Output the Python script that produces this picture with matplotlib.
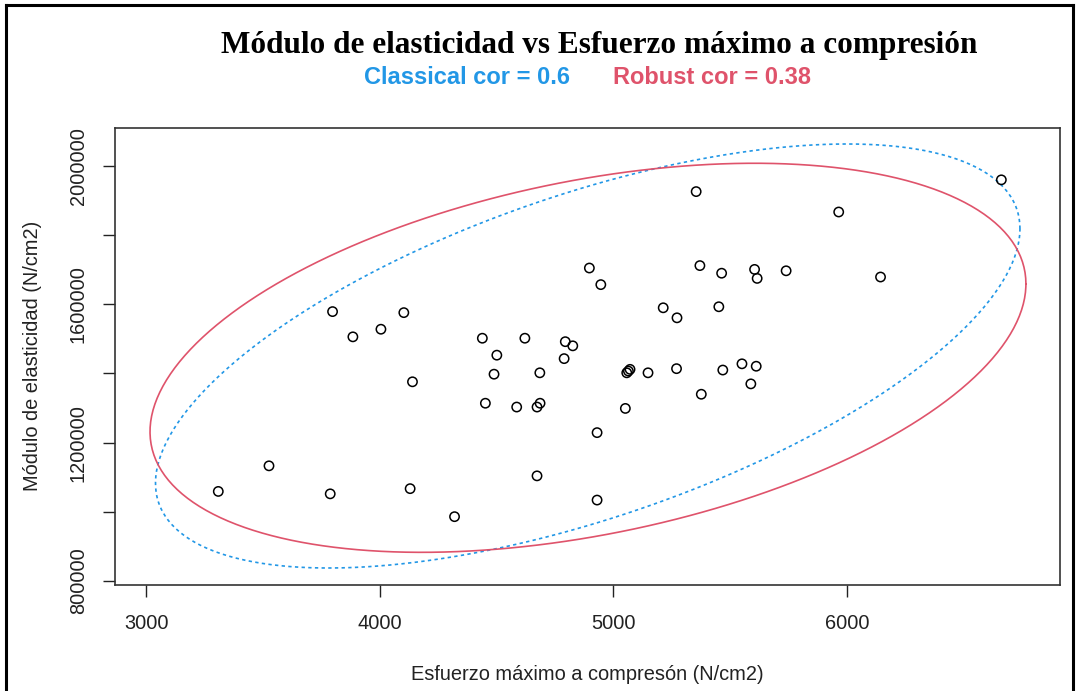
import numpy as np
import matplotlib
matplotlib.use("Agg")
import matplotlib.pyplot as plt
from matplotlib.lines import Line2D

plt.rcParams["font.family"] = ["Liberation Sans", "DejaVu Sans"]

# esfuerzo máximo a compresión (N/cm2) y módulo de elasticidad (N/cm2)
esfuerzo = [3309, 3526, 3788, 3798, 3885, 4005, 4103, 4140, 4130, 4320,
            4439, 4621, 4794, 4826, 4501, 4789, 4489, 4685, 4452, 4586,
            4673, 4686, 4673, 4930, 4930, 4897, 4946, 5057, 5071, 5148,
            5051, 5213, 5272, 5270, 5354, 5370, 5463, 5451, 5604, 5615,
            5739, 5468, 5550, 5611, 5588, 5376, 5964, 6143, 6660, 5064]
modulo = [1059000, 1133000, 1052000, 1579000, 1506000, 1528000, 1576000, 1376000, 1067000, 986000,
          1502000, 1502000, 1492000, 1480000, 1453000, 1443000, 1398000, 1402000, 1314000, 1303000,
          1303000, 1314000, 1104000, 1229000, 1034000, 1705000, 1657000, 1402000, 1412000, 1402000,
          1299000, 1590000, 1561000, 1414000, 1926000, 1712000, 1690000, 1593000, 1701000, 1675000,
          1697000, 1410000, 1428000, 1421000, 1370000, 1340000, 1867000, 1679000, 1960000, 1407000]

# centro, desviaciones y correlación de cada estimación
clasico_centro = (4890, 1450600)
clasico_sd = (681, 225700)
clasico_cor = 0.6
robusto_centro = (4891, 1445400)
robusto_sd = (690, 207100)
robusto_cor = 0.38

azul = "#2297E6"
rojo = "#DF536B"


def elipse(centro, sd, r, nivel=0.975, n=400):
    cov = np.array([[sd[0] ** 2, r * sd[0] * sd[1]],
                    [r * sd[0] * sd[1], sd[1] ** 2]])
    L = np.linalg.cholesky(cov)
    c = np.sqrt(-2 * np.log(1 - nivel))  # chi2 con 2 g.l.
    t = np.linspace(0, 2 * np.pi, n)
    p = c * L @ np.vstack([np.cos(t), np.sin(t)])
    return p[0] + centro[0], p[1] + centro[1]


W, H = 1078, 691
fig = plt.figure(figsize=(W / 100, H / 100), dpi=100)
ax = fig.add_axes([115 / W, 1 - 585 / H, (1060 - 115) / W, (585 - 128) / H])

ax.scatter(esfuerzo, modulo, s=45, facecolors="none", edgecolors="black", linewidths=1.1, zorder=3)

xc, yc = elipse(clasico_centro, clasico_sd, clasico_cor)
ax.plot(xc, yc, color=azul, lw=1.2, linestyle=(0, (2, 2)))
xr, yr = elipse(robusto_centro, robusto_sd, robusto_cor)
ax.plot(xr, yr, color=rojo, lw=1.2)

ax.set_xlim(2867, 6911)
ax.set_ylim(788400, 2109900)

ax.set_xticks([3000, 4000, 5000, 6000])
yt = np.arange(800000, 2000001, 200000)
ax.set_yticks(yt)
ax.set_yticklabels([str(v) if v % 400000 == 0 else "" for v in yt])
ax.tick_params(axis="both", direction="out", length=8.6, width=1, labelsize=14.4, colors="#222222")
ax.tick_params(axis="x", pad=12)
ax.tick_params(axis="y", pad=11, labelrotation=90)
for lab in ax.get_yticklabels():
    lab.set_va("center")
for s in ax.spines.values():
    s.set_linewidth(1.2)
    s.set_color("#333333")

fig.text(587.5 / W, 1 - 675 / H, "Esfuerzo máximo a compresón (N/cm2)", ha="center", va="center",
         fontsize=14.4, color="#222222")
fig.text(33 / W, 1 - 356 / H, "Módulo de elasticidad (N/cm2)", ha="center", va="center",
         rotation=90, fontsize=14.4, color="#222222")

fig.text(599 / W, 1 - 45 / H, "Módulo de elasticidad vs Esfuerzo máximo a compresión", ha="center", va="center",
         fontsize=22.5, fontweight="bold", family="Liberation Serif")
fig.text(467 / W, 1 - 77 / H, "Classical cor = %s" % clasico_cor, ha="center", va="center",
         fontsize=17, fontweight="bold", color=azul)
fig.text(712 / W, 1 - 77 / H, "Robust cor = %s" % robusto_cor, ha="center", va="center",
         fontsize=17, fontweight="bold", color=rojo)

# marco exterior: izquierda, arriba y derecha
fig.add_artist(Line2D([6 / W, 6 / W], [0, 1 - 5 / H], color="black", lw=2.2))
fig.add_artist(Line2D([6 / W, 1073 / W], [1 - 5 / H, 1 - 5 / H], color="black", lw=2.2))
fig.add_artist(Line2D([1073 / W, 1073 / W], [1 - 5 / H, 0], color="black", lw=2.2))

fig.savefig("out.png", dpi=100)
